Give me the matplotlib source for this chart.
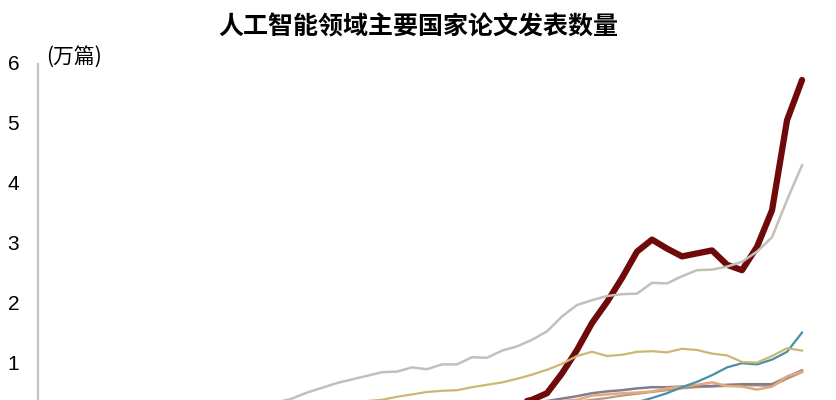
import matplotlib
matplotlib.use("Agg")
import matplotlib.pyplot as plt

plt.rcParams['font.family'] = ['Liberation Sans', 'Noto Sans CJK SC', 'DejaVu Sans']

years = list(range(1970, 2022))

china = [0.00, 0.00, 0.00, 0.00, 0.00, 0.00, 0.00, 0.00, 0.00, 0.00,
         0.00, 0.00, 0.01, 0.01, 0.01, 0.01, 0.02, 0.02, 0.02, 0.03,
         0.03, 0.04, 0.05, 0.06, 0.07, 0.09, 0.11, 0.13, 0.15, 0.18,
         0.22, 0.26, 0.31, 0.37, 0.48, 0.81, 1.20, 1.65, 2.00, 2.40,
         2.84, 3.04, 2.89, 2.76, 2.81, 2.86, 2.62, 2.53, 2.92, 3.53,
         5.03, 5.70]
usa = [0.02, 0.03, 0.03, 0.04, 0.05, 0.06, 0.07, 0.08, 0.10, 0.11,
       0.13, 0.15, 0.18, 0.21, 0.25, 0.29, 0.33, 0.39, 0.49, 0.57,
       0.65, 0.71, 0.77, 0.83, 0.84, 0.91, 0.88, 0.96, 0.96, 1.08,
       1.07, 1.19, 1.26, 1.37, 1.51, 1.76, 1.95, 2.03, 2.10, 2.13,
       2.14, 2.32, 2.31, 2.43, 2.53, 2.54, 2.59, 2.67, 2.84, 3.08,
       3.70, 4.28]
tan_series = [0.01, 0.01, 0.02, 0.02, 0.03, 0.03, 0.04, 0.05, 0.06, 0.07,
              0.08, 0.09, 0.10, 0.12, 0.14, 0.16, 0.18, 0.20, 0.23, 0.26,
              0.29, 0.32, 0.35, 0.37, 0.42, 0.46, 0.50, 0.52, 0.53, 0.58,
              0.62, 0.66, 0.72, 0.79, 0.87, 0.97, 1.10, 1.17, 1.10, 1.12,
              1.17, 1.18, 1.16, 1.22, 1.20, 1.14, 1.11, 1.00, 0.99, 1.10,
              1.23, 1.19]
teal_series = [0.00, 0.00, 0.00, 0.00, 0.00, 0.00, 0.00, 0.00, 0.00, 0.00,
               0.01, 0.01, 0.01, 0.01, 0.01, 0.02, 0.02, 0.02, 0.02, 0.03,
               0.03, 0.03, 0.04, 0.04, 0.05, 0.05, 0.06, 0.07, 0.08, 0.09,
               0.10, 0.11, 0.12, 0.14, 0.16, 0.18, 0.20, 0.23, 0.26, 0.30,
               0.33, 0.40, 0.48, 0.58, 0.67, 0.78, 0.91, 0.98, 0.96, 1.04,
               1.17, 1.49]
slate_series = [0.01, 0.01, 0.01, 0.02, 0.02, 0.02, 0.03, 0.03, 0.04, 0.04,
                0.05, 0.05, 0.06, 0.07, 0.08, 0.09, 0.10, 0.11, 0.12, 0.13,
                0.14, 0.15, 0.16, 0.17, 0.18, 0.20, 0.21, 0.22, 0.24, 0.25,
                0.27, 0.29, 0.31, 0.33, 0.35, 0.39, 0.43, 0.48, 0.51, 0.53,
                0.56, 0.58, 0.58, 0.59, 0.60, 0.60, 0.62, 0.63, 0.63, 0.63,
                0.75, 0.86]
peach_series = [0.01, 0.01, 0.01, 0.01, 0.02, 0.02, 0.02, 0.03, 0.03, 0.04,
                0.04, 0.05, 0.05, 0.06, 0.07, 0.08, 0.09, 0.10, 0.11, 0.12,
                0.13, 0.14, 0.15, 0.16, 0.17, 0.18, 0.19, 0.21, 0.22, 0.24,
                0.25, 0.27, 0.29, 0.31, 0.33, 0.35, 0.37, 0.44, 0.46, 0.48,
                0.49, 0.51, 0.56, 0.59, 0.62, 0.66, 0.60, 0.59, 0.54, 0.59,
                0.76, 0.84]
taupe_series = [0.01, 0.01, 0.01, 0.01, 0.01, 0.02, 0.02, 0.02, 0.03, 0.03,
                0.03, 0.04, 0.04, 0.05, 0.05, 0.06, 0.07, 0.08, 0.09, 0.10,
                0.11, 0.12, 0.13, 0.14, 0.15, 0.16, 0.17, 0.18, 0.20, 0.21,
                0.23, 0.24, 0.26, 0.28, 0.30, 0.32, 0.34, 0.37, 0.40, 0.44,
                0.47, 0.50, 0.53, 0.56, 0.58, 0.59, 0.60, 0.61, 0.61, 0.60,
                0.72, 0.83]

yticks = [1, 2, 3, 4, 5, 6]

fig = plt.figure(figsize=(8.37, 4.0), dpi=100)
# axes reach below the bottom edge, like the cropped original
ax = fig.add_axes([38 / 837, -0.055, 1 - 38 / 837, 0.9])

ax.plot(years, china, color='#6e0a0a', lw=4.5, solid_capstyle='round', zorder=2)
ax.plot(years, taupe_series, color='#b49a86', lw=1.6, zorder=3)
ax.plot(years, slate_series, color='#7d7f90', lw=1.8, zorder=3)
ax.plot(years, peach_series, color='#e6a77a', lw=1.8, zorder=3)
ax.plot(years, teal_series, color='#4a8fa8', lw=1.6, zorder=3)
ax.plot(years, tan_series, color='#cdb573', lw=1.6, zorder=3)
ax.plot(years, usa, color='#c2c0b8', lw=1.8, zorder=3)

ax.set_xlim(1970.07, 2023.33)
ax.set_ylim(0, 6)
ax.set_yticks(yticks)
ax.set_yticklabels([str(t) for t in yticks])
ax.tick_params(axis='y', length=0, pad=13.5, labelsize=15)
ax.set_xticks([])

for side in ['top', 'right', 'bottom']:
    ax.spines[side].set_visible(False)
ax.spines['left'].set_color('#c4c4c4')
ax.spines['left'].set_linewidth(1.6)
ax.spines['left'].set_bounds(0, 5.97)

fig.text(418 / 837, 1 - 27 / 400, '人工智能领域主要国家论文发表数量',
         ha='center', va='center', fontsize=18, fontweight='bold',
         family=['Noto Sans CJK SC', 'DejaVu Sans'])
fig.text(46 / 837, 1 - 57 / 400, '(万篇)', ha='left', va='center',
         fontsize=15, family=['Noto Sans CJK SC', 'DejaVu Sans'])

fig.savefig('out.png', dpi=100)
